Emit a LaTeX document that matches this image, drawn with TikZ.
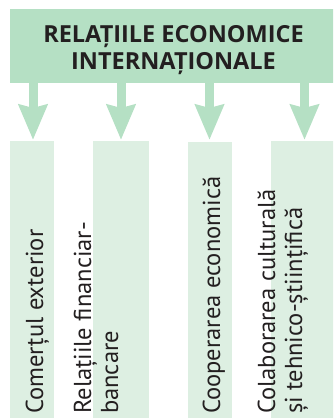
\documentclass[tikz,border=0pt]{standalone}
\usepackage{fontspec}
\setmainfont{PT Sans}
\newfontfamily\titlefont{Open Sans}
\usetikzlibrary{arrows.meta}
\definecolor{topg}{HTML}{B5E0C4}
\definecolor{boxg}{HTML}{DDEFE2}
\definecolor{txt}{HTML}{231F20}
\tikzset{
  titlebox/.style={fill=topg, inner sep=0pt, anchor=north west},
  itembox/.style={fill=boxg, inner sep=0pt, anchor=north west, minimum height=290pt},
  itemtext/.style={rotate=90, anchor=base west, align=left, inner sep=0pt, text=txt, font=\fontsize{24.5}{27}\selectfont},
  bigarrow/.style={draw=topg, line width=9pt, -{Stealth[length=35pt,width=28pt,inset=3pt]}}
}
\begin{document}
\begin{tikzpicture}[x=1pt,y=1pt]
\useasboundingbox (0,0) rectangle (333,-418);
\begin{scope}
\clip (0,0) rectangle (333,-418);
\node[titlebox, minimum width=335pt, minimum height=74pt] (top) at (10,-9) {};
\node[text=txt, align=center, anchor=base, inner sep=0pt, font=\titlefont\bfseries\fontsize{23.5}{27}\selectfont] (title) at (173.5,-69) {RELAȚIILE ECONOMICE\\INTERNAȚIONALE};
\node[itembox, minimum width=44pt] (b1) at (10,-141) {};
\node[itembox, minimum width=56pt] (b2) at (93,-141) {};
\node[itembox, minimum width=44pt] (b3) at (188,-142) {};
\node[itembox, minimum width=66pt] (b4) at (271,-141) {};
\draw[bigarrow] (top.south -| 33,0) -- (33,-140);
\draw[bigarrow] (top.south -| 121,0) -- (121,-140);
\draw[bigarrow] (top.south -| 209.5,0) -- (209.5,-140);
\draw[bigarrow] (top.south -| 304.5,0) -- (304.5,-140);
\node[itemtext] (t1) at (43,-414) {Comerțul exterior};
\node[itemtext] (t2) at (118,-414) {Relațiile financiar-\\bancare};
\node[itemtext] (t3) at (220,-414) {Cooperarea economică};
\node[itemtext] (t4) at (302,-414) {Colaborarea culturală\\și tehnico-științifică};
\end{scope}
\end{tikzpicture}
\end{document}
